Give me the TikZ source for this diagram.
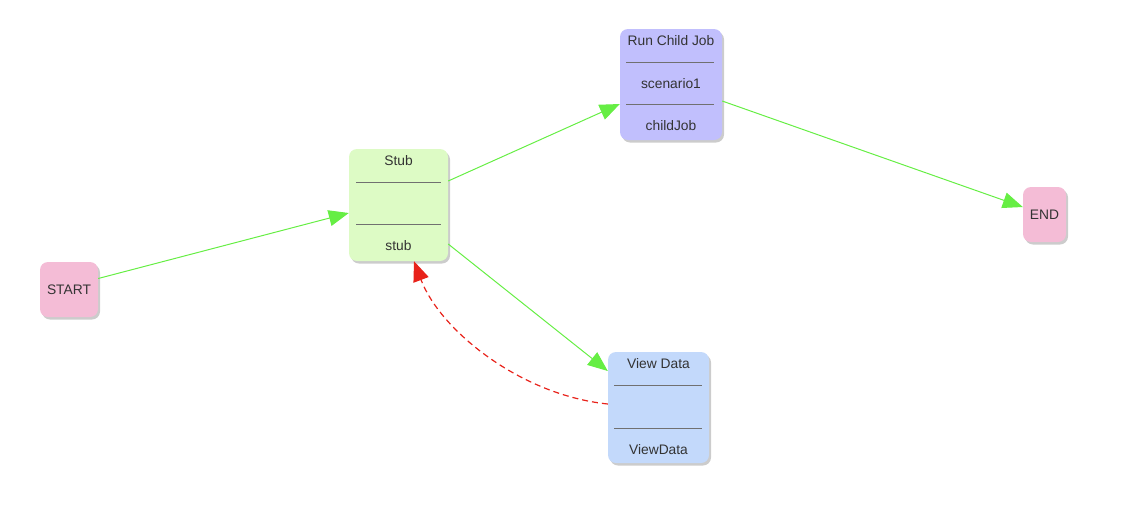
\documentclass[tikz,border=0pt]{standalone}
\usepackage{fontspec}
\setmainfont{Liberation Sans}
\usetikzlibrary{arrows.meta,shadows}
\definecolor{pinkfill}{HTML}{F4BCD6}
\definecolor{greenfill}{HTML}{DDFBC5}
\definecolor{purplefill}{HTML}{C1BFFD}
\definecolor{bluefill}{HTML}{C3D9FB}
\definecolor{edgegreen}{HTML}{66EE44}
\definecolor{edgered}{HTML}{E8221A}
\definecolor{txt}{HTML}{333333}
\definecolor{sep}{HTML}{707070}
\tikzset{
  box/.style={rectangle, rounded corners=8pt, draw=none, inner sep=0pt,
    drop shadow={shadow xshift=2pt, shadow yshift=-2.5pt, opacity=0.2, fill=black}},
  lbl/.style={text=txt, font=\fontsize{13.8}{15}\selectfont, inner sep=0pt},
  sepline/.style={draw=sep, line width=0.9pt},
  flow/.style={draw=edgegreen, line width=1pt, -{Triangle[length=20pt,width=16pt]}},
  back/.style={draw=edgered, line width=1.2pt, dash pattern=on 6pt off 4pt, -{Triangle[length=20pt,width=16pt]}}
}
\begin{document}
\begin{tikzpicture}[x=1pt,y=-1pt]
\useasboundingbox (0,0) rectangle (1146,504);
% nodes
\node[box, fill=pinkfill, minimum width=58pt, minimum height=55pt] (start) at (69,289.5) {};
\node[lbl] (startt) at (start.center) {START};
\node[box, fill=greenfill, minimum width=99pt, minimum height=112pt] (stub) at (398.5,205) {};
\node[lbl] (stubt) at (398.5,161) {Stub};
\draw[sepline] (356,182) -- (441,182);
\draw[sepline] (356,224) -- (441,224);
\node[lbl] (stubb) at (398.5,246) {stub};
\node[box, fill=purplefill, minimum width=102pt, minimum height=111pt] (rcj) at (671,84.5) {};
\node[lbl] (rcjt) at (671,41) {Run Child Job};
\draw[sepline] (626,62) -- (714,62);
\node[lbl] (rcjm) at (671,84) {scenario1};
\draw[sepline] (626,104) -- (714,104);
\node[lbl] (rcjb) at (671,126) {childJob};
\node[box, fill=bluefill, minimum width=101pt, minimum height=111pt] (vd) at (658.5,407.5) {};
\node[lbl] (vdt) at (658.5,364) {View Data};
\draw[sepline] (614,385) -- (702,385);
\draw[sepline] (614,428) -- (702,428);
\node[lbl] (vdb) at (658.5,450) {ViewData};
\node[box, fill=pinkfill, minimum width=43pt, minimum height=55pt] (end) at (1044.5,214.5) {};
\node[lbl] (endt) at (end.center) {END};
% connectors
\draw[flow] ([yshift=11pt]start.east) -- ([yshift=-8pt]stub.west);
\draw[flow] ([yshift=24pt]stub.east) -- ([yshift=-19.5pt]rcj.west);
\draw[flow] ([yshift=-16.5pt]rcj.east) -- ([yshift=7.5pt]end.west);
\draw[flow] ([yshift=-39pt]stub.east) -- ([yshift=36.5pt]vd.west);
\draw[back] ([yshift=3.5pt]vd.west) .. controls (520,395) and (440,330) .. ([xshift=15.5pt]stub.south);
\end{tikzpicture}
\end{document}
